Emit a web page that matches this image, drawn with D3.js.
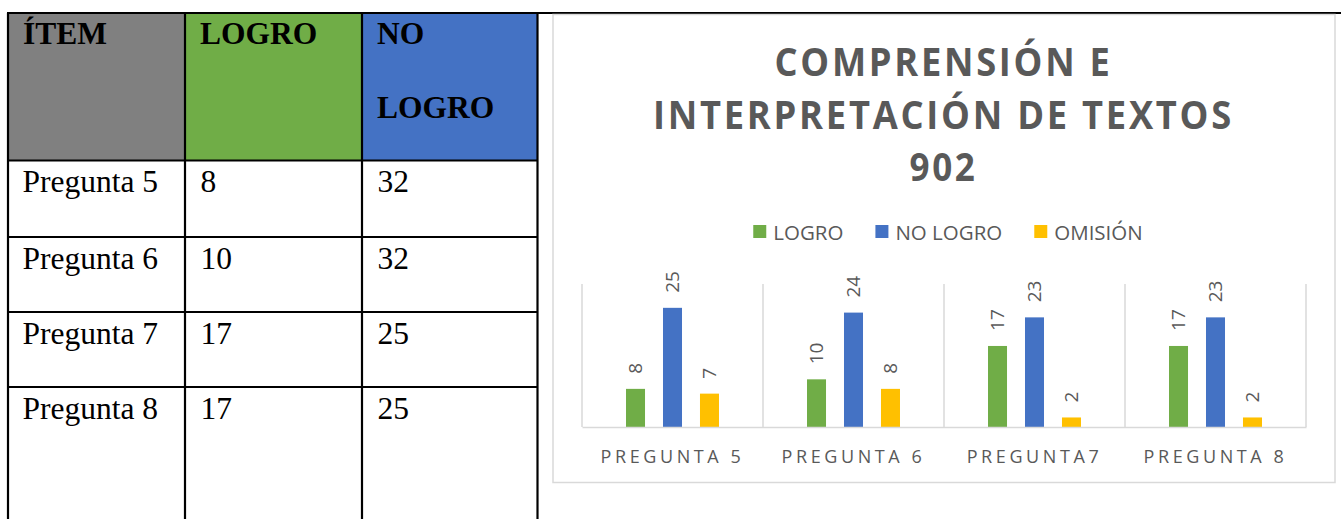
<!DOCTYPE html>
<html>
<head>
<meta charset="utf-8">
<script src="https://cdn.jsdelivr.net/npm/d3@7"></script>
<style>
  html, body { margin: 0; padding: 0; background: #ffffff; }
  svg { display: block; }
</style>
</head>
<body>
<svg id="chart" width="1341" height="519"></svg>
<script>
// ---------- DATA ----------
// Table (left)
const tableHeaders = ["ÍTEM", "LOGRO", "NO|LOGRO"];
const tableItems = ["Pregunta 5", "Pregunta 6", "Pregunta 7", "Pregunta 8"];
const tableLogro = [8, 10, 17, 17];
const tableNoLogro = [32, 32, 25, 25];

// Chart (right)
const chartTitle = ["COMPRENSIÓN E", "INTERPRETACIÓN DE TEXTOS", "902"];
const categories = ["PREGUNTA 5", "PREGUNTA 6", "PREGUNTA7", "PREGUNTA 8"];
const seriesNames = ["LOGRO", "NO LOGRO", "OMISIÓN"];
const logro = [8, 10, 17, 17];
const noLogro = [25, 24, 23, 23];
const omision = [7, 8, 2, 2];

// ---------- STYLE ----------
const seriesColors = ["#70AD47", "#4472C4", "#FFC000"];
const headerColors = ["#808080", "#70AD47", "#4472C4"];
const textGray = "#595959";
const gridGray = "#d9d9d9";

const svg = d3.select("#chart");

// ================= TABLE =================
const colEdges = [8, 185, 362, 537.5];
const rowEdges = [13, 160.5, 237, 312, 387, 519];
const tbl = svg.append("g");

// header fills
tbl.selectAll("rect.hdr").data(tableHeaders).join("rect")
  .attr("class", "hdr")
  .attr("x", (d, i) => colEdges[i])
  .attr("y", rowEdges[0])
  .attr("width", (d, i) => colEdges[i + 1] - colEdges[i])
  .attr("height", rowEdges[1] - rowEdges[0])
  .attr("fill", (d, i) => headerColors[i]);

// header text
tableHeaders.forEach((h, i) => {
  const lines = h.split("|");
  lines.forEach((ln, j) => {
    tbl.append("text")
      .attr("x", colEdges[i] + 15)
      .attr("y", 44 + j * 74)
      .attr("font-family", "'Liberation Serif', 'Times New Roman', serif")
      .attr("font-weight", "bold")
      .attr("font-size", 31.5)
      .attr("fill", "#000")
      .text(ln);
  });
});

// body text
const tableCols = [tableItems, tableLogro, tableNoLogro];
tableCols.forEach((col, c) => {
  tbl.selectAll(null).data(col).join("text")
    .attr("x", colEdges[c] + (c === 0 ? 14.5 : 15.5))
    .attr("y", (d, r) => rowEdges[r + 1] + 31.5)
    .attr("font-family", "'Liberation Serif', 'Times New Roman', serif")
    .attr("font-size", 31.5)
    .attr("fill", "#000")
    .text(d => d);
});

// grid lines (black)
colEdges.forEach(x => {
  tbl.append("line").attr("x1", x).attr("x2", x)
    .attr("y1", rowEdges[0]).attr("y2", 519)
    .attr("stroke", "#000").attr("stroke-width", 2.2);
});
rowEdges.slice(1, 5).forEach(y => {
  tbl.append("line").attr("x1", colEdges[0]).attr("x2", colEdges[3])
    .attr("y1", y).attr("y2", y)
    .attr("stroke", "#000").attr("stroke-width", 2.2);
});
// top border extends across the page
tbl.append("line").attr("x1", colEdges[0] - 1).attr("x2", 1341)
  .attr("y1", rowEdges[0]).attr("y2", rowEdges[0])
  .attr("stroke", "#000").attr("stroke-width", 2);

// ================= CHART =================
const box = { x: 553, y: 14.5, w: 782, h: 468 };
svg.append("rect")
  .attr("x", box.x).attr("y", box.y)
  .attr("width", box.w).attr("height", box.h)
  .attr("fill", "#fff")
  .attr("stroke", gridGray).attr("stroke-width", 1.5);

// Title
const titleCx = 943.5;
const titleBaselines = [76, 128.5, 181];
const titleWidths = [338, 581, 68];
svg.selectAll("text.title").data(chartTitle).join("text")
  .attr("class", "title")
  .attr("x", titleCx)
  .attr("y", (d, i) => titleBaselines[i])
  .attr("text-anchor", "middle")
  .attr("font-family", "'Open Sans', sans-serif")
  .attr("font-weight", "bold")
  .attr("font-size", 40)
  .attr("letter-spacing", 3)
  .attr("textLength", (d, i) => titleWidths[i])
  .attr("lengthAdjust", "spacingAndGlyphs")
  .attr("fill", textGray)
  .text(d => d);

// Legend
const legend = svg.append("g");
const legendItems = legend.selectAll("g").data(seriesNames).join("g");
legendItems.append("rect")
  .attr("width", 13).attr("height", 13)
  .attr("y", 225)
  .attr("fill", (d, i) => seriesColors[i]);
legendItems.append("text")
  .attr("y", 240)
  .attr("font-family", "'Open Sans', sans-serif")
  .attr("font-size", 20.5)
  .attr("fill", textGray)
  .text(d => d);
// lay legend out centered
{
  const widths = [];
  legendItems.each(function () {
    widths.push(d3.select(this).select("text").node().getComputedTextLength());
  });
  const itemW = widths.map(w => 13 + 7 + w);
  const gap = 32;
  const total = d3.sum(itemW) + gap * (itemW.length - 1);
  let x = 948 - total / 2;
  legendItems.each(function (d, i) {
    const g = d3.select(this);
    g.select("rect").attr("x", x);
    g.select("text").attr("x", x + 20);
    x += itemW[i] + gap;
  });
}

// Plot area
const plot = { left: 582, right: 1306, top: 284, bottom: 427 };
const x0 = d3.scaleBand().domain(categories).range([plot.left, plot.right]).padding(0);
const x1 = d3.scaleBand().domain(seriesNames).range([0, x0.bandwidth()])
  .paddingInner(0.486).paddingOuter(1.19);
const y = d3.scaleLinear().domain([0, 30]).range([plot.bottom, plot.top]);

// vertical category separators
const sepPositions = categories.map(c => x0(c)).concat([plot.right]);
svg.selectAll("line.sep").data(sepPositions).join("line")
  .attr("class", "sep")
  .attr("x1", d => d).attr("x2", d => d)
  .attr("y1", plot.top).attr("y2", plot.bottom)
  .attr("stroke", gridGray).attr("stroke-width", 1.5);

// bars
const seriesData = [logro, noLogro, omision];
const rows = [];
categories.forEach((c, ci) => {
  seriesNames.forEach((s, si) => {
    rows.push({ cat: c, series: s, si, value: seriesData[si][ci] });
  });
});

svg.selectAll("rect.bar").data(rows).join("rect")
  .attr("class", "bar")
  .attr("x", d => x0(d.cat) + x1(d.series))
  .attr("y", d => y(d.value))
  .attr("width", x1.bandwidth())
  .attr("height", d => y(0) - y(d.value))
  .attr("fill", d => seriesColors[d.si]);

// data labels (rotated)
svg.selectAll("text.lbl").data(rows).join("text")
  .attr("class", "lbl")
  .attr("transform", d => `translate(${x0(d.cat) + x1(d.series) + x1.bandwidth() / 2},${y(d.value) - 15}) rotate(-90)`)
  .attr("dy", "0.36em")
  .attr("text-anchor", "start")
  .attr("font-family", "'Open Sans', sans-serif")
  .attr("font-size", 19)
  .attr("fill", textGray)
  .text(d => d.value);

// baseline axis
const xAxis = d3.axisBottom(x0).tickSize(0).tickPadding(0);
const axG = svg.append("g").attr("transform", `translate(0,${plot.bottom})`).call(xAxis);
axG.select(".domain").attr("stroke", gridGray).attr("stroke-width", 1.5);
axG.selectAll(".tick text")
  .attr("y", 35.5)
  .attr("dy", 0)
  .attr("dx", 0)
  .attr("font-family", "'Open Sans', sans-serif")
  .attr("font-size", 18)
  .attr("letter-spacing", 3.6)
  .attr("fill", textGray);
</script>
</body>
</html>
